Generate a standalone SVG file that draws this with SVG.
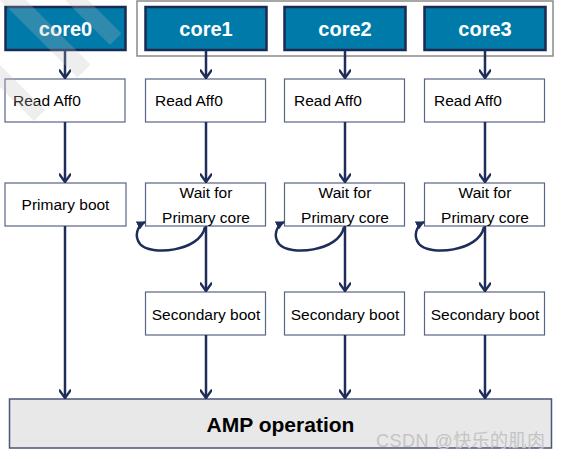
<svg xmlns="http://www.w3.org/2000/svg" width="561" height="459" viewBox="0 0 561 459">
<defs>
<marker id="arr" viewBox="0 0 10 10" refX="9" refY="5" markerWidth="12" markerHeight="12" markerUnits="userSpaceOnUse" orient="auto">
<path d="M2,0 L9,5 L2,10" fill="none" stroke="#1f2d5a" stroke-width="2"/>
</marker>
<marker id="tri" viewBox="0 0 10 10" refX="9" refY="5" markerWidth="9" markerHeight="9" markerUnits="userSpaceOnUse" orient="auto">
<path d="M0,0 L10,5 L0,10 Z" fill="#1f2d5a"/>
</marker>
</defs>
<style>
.core{fill:#007aa9;stroke:#1b2a52;stroke-width:2.5}
.coret{font-family:"Liberation Sans",Arial,sans-serif;font-weight:bold;font-size:20px;fill:#fff;text-anchor:middle}
.box{fill:#fff;stroke:#5a6484;stroke-width:1.2}
.t{font-family:"Liberation Sans",Arial,sans-serif;font-size:15.5px;fill:#000}
.c{text-anchor:middle}
.ln{stroke:#1f2d5a;stroke-width:2.5;fill:none}
.amp{fill:#e8e8e8;stroke:#4a5578;stroke-width:1.5}
.ampt{font-family:"Liberation Sans",Arial,sans-serif;font-weight:bold;font-size:21px;fill:#000;text-anchor:middle}
.wm{fill:#bbbbbb;opacity:0.25}
</style>
<rect x="0" y="0" width="561" height="459" fill="#fff"/>

<rect id="coreGroup" x="137" y="1" width="416" height="55" fill="none" stroke="#8a8a8a" stroke-width="1.5"/>

<g id="core0"><rect class="core" x="5.5" y="7" width="120" height="43"/><text class="coret" x="65.5" y="36">core0</text></g>
<g id="core1"><rect class="core" x="145.5" y="7" width="121" height="43"/><text class="coret" x="206" y="36">core1</text></g>
<g id="core2"><rect class="core" x="284.5" y="7" width="121" height="43"/><text class="coret" x="345" y="36">core2</text></g>
<g id="core3"><rect class="core" x="424.5" y="7" width="121" height="43"/><text class="coret" x="485" y="36">core3</text></g>

<g id="read0"><rect class="box" x="5" y="79" width="120" height="43"/><text class="t" x="13" y="106">Read Aff0</text></g>
<g id="read1"><rect class="box" x="145.5" y="79" width="120" height="43"/><text class="t" x="155" y="106">Read Aff0</text></g>
<g id="read2"><rect class="box" x="284.5" y="79" width="120" height="43"/><text class="t" x="294" y="106">Read Aff0</text></g>
<g id="read3"><rect class="box" x="424.5" y="79" width="120" height="43"/><text class="t" x="434" y="106">Read Aff0</text></g>

<g id="primary"><rect class="box" x="5" y="183" width="121" height="43"/><text class="t c" x="65.5" y="210">Primary boot</text></g>

<g id="wait1"><rect class="box" x="145.5" y="183" width="120" height="43"/><text class="t c" x="206" y="198">Wait for</text><text class="t c" x="206" y="222.5">Primary core</text></g>
<g id="wait2"><rect class="box" x="284.5" y="183" width="120" height="43"/><text class="t c" x="345" y="198">Wait for</text><text class="t c" x="345" y="222.5">Primary core</text></g>
<g id="wait3"><rect class="box" x="424.5" y="183" width="120" height="43"/><text class="t c" x="485" y="198">Wait for</text><text class="t c" x="485" y="222.5">Primary core</text></g>

<g id="sec1"><rect class="box" x="145.5" y="292" width="120" height="43"/><text class="t c" x="206" y="320">Secondary boot</text></g>
<g id="sec2"><rect class="box" x="284.5" y="292" width="120" height="43"/><text class="t c" x="345" y="320">Secondary boot</text></g>
<g id="sec3"><rect class="box" x="424.5" y="292" width="120" height="43"/><text class="t c" x="485" y="320">Secondary boot</text></g>

<g id="amp"><rect class="amp" x="9.5" y="399" width="542" height="49"/><text class="ampt" x="280.5" y="432">AMP operation</text></g>

<g id="connectors">
<line class="ln" x1="65" y1="50" x2="65" y2="78" marker-end="url(#arr)"/>
<line class="ln" x1="206" y1="50" x2="206" y2="78" marker-end="url(#arr)"/>
<line class="ln" x1="345" y1="50" x2="345" y2="78" marker-end="url(#arr)"/>
<line class="ln" x1="485" y1="50" x2="485" y2="78" marker-end="url(#arr)"/>

<line class="ln" x1="65" y1="122" x2="65" y2="182" marker-end="url(#arr)"/>
<line class="ln" x1="206" y1="122" x2="206" y2="182" marker-end="url(#arr)"/>
<line class="ln" x1="345" y1="122" x2="345" y2="182" marker-end="url(#arr)"/>
<line class="ln" x1="485" y1="122" x2="485" y2="182" marker-end="url(#arr)"/>

<line class="ln" x1="206" y1="226" x2="206" y2="291" marker-end="url(#arr)"/>
<line class="ln" x1="345" y1="226" x2="345" y2="291" marker-end="url(#arr)"/>
<line class="ln" x1="485" y1="226" x2="485" y2="291" marker-end="url(#arr)"/>

<path class="ln" stroke-width="2" d="M205,227 C200,252 150,256 140,244 C134,236 137,226 145,222" marker-end="url(#tri)"/>
<path class="ln" stroke-width="2" d="M344,227 C339,252 289,256 279,244 C273,236 276,226 284,222" marker-end="url(#tri)"/>
<path class="ln" stroke-width="2" d="M484,227 C479,252 429,256 419,244 C413,236 416,226 424,222" marker-end="url(#tri)"/>

<line class="ln" x1="65" y1="226" x2="65" y2="398" marker-end="url(#arr)"/>
<line class="ln" x1="206" y1="335" x2="206" y2="398" marker-end="url(#arr)"/>
<line class="ln" x1="345" y1="335" x2="345" y2="398" marker-end="url(#arr)"/>
<line class="ln" x1="485" y1="335" x2="485" y2="398" marker-end="url(#arr)"/>
</g>

<polygon class="wm" points="0,0 26,0 90.5,64.5 77.5,77.5 0,0"/>
<polygon class="wm" points="0,65 45,110 34,121 0,87"/>
<polygon class="wm" points="65,0 88,0 121.5,33.5 110,45"/>

<text x="376" y="446.5" font-family="'Liberation Sans','Noto Sans CJK SC',sans-serif" font-size="18" textLength="169" fill="#c4c4c4">CSDN @快乐的肌肉</text>
</svg>
